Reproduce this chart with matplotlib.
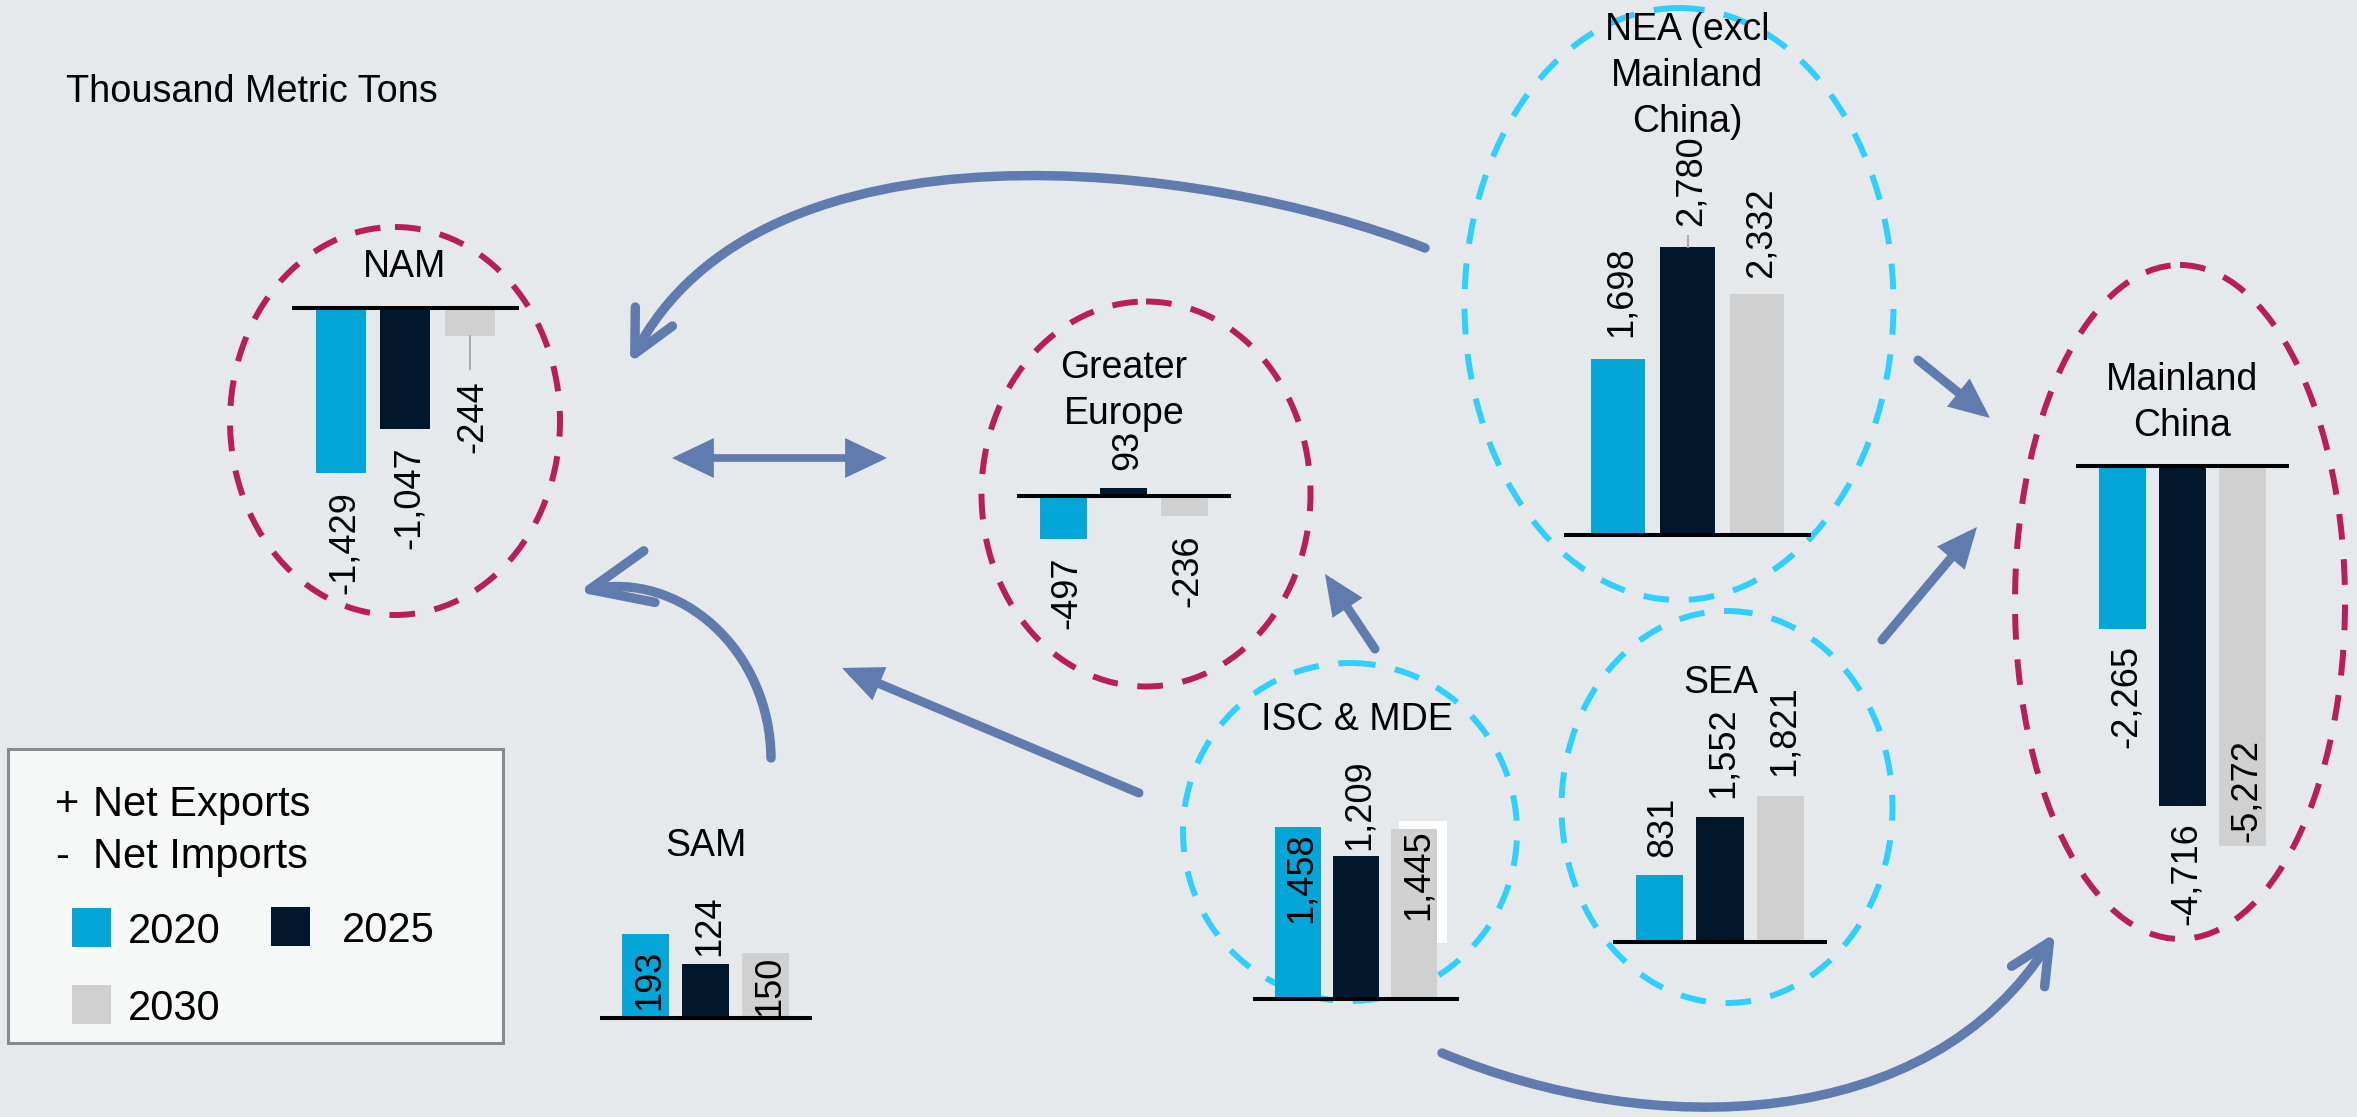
import matplotlib
matplotlib.use("Agg")
import matplotlib.pyplot as plt
from matplotlib.patches import Ellipse, Rectangle, FancyArrowPatch, ArrowStyle
from matplotlib.path import Path

plt.rcParams['font.family'] = ['Liberation Sans', 'DejaVu Sans']

W, H = 2357, 1117

# net trade by region, thousand metric tons (+ exports, - imports)
years = ["2020", "2025", "2030"]
regions = ["NAM", "Greater\nEurope", "NEA (excl\nMainland\nChina)", "Mainland\nChina",
           "SAM", "ISC & MDE", "SEA"]
net_2020 = [-1429, -497, 1698, -2265, 193, 1458, 831]
net_2025 = [-1047, 93, 2780, -4716, 124, 1209, 1552]
net_2030 = [-244, -236, 2332, -5272, 150, 1445, 1821]

bar_colors = ["#03A6D6", "#01172B", "#CFD0CF"]
bg = "#E6E9EC"
arrow_c = "#607BAD"
red_ring = "#B81E5A"
cyan_ring = "#2FD0FF"

# each mini chart: baseline left px, baseline right px, baseline y px, px per kt
layout = [
    (291.7, 519.0, 308.3, 0.115),
    (1016.7, 1230.7, 495.7, 0.088),
    (1564.0, 1811.0, 535.0, 0.1035),
    (2076.0, 2289.0, 466.0, 0.072),
    (599.5, 812.0, 1018.3, 0.435),
    (1253.0, 1459.0, 999.3, 0.1182),
    (1613.0, 1827.0, 942.3, 0.0805),
]
title_pos = [(405, 263), (1124, 387), (1687, 72), (2182, 399),
             (706, 842), (1357, 716), (1721, 679)]
# label placement: 'out' past bar end, 'in' inside bar end, 'base' from baseline; gap in px
label_modes = [
    [('out', 18), ('out', 18), ('out', 44)],
    [('out', 17), ('out', 18), ('out', 18)],
    [('out', 22), ('out', 21), ('out', 16)],
    [('out', 16), ('out', 17), ('in', 4)],
    [('base', 8), ('out', 8), ('base', 2)],
    [('in', 5), ('out', 6), ('in', 1)],
    [('out', 18), ('out', 19), ('out', 20)],
]
leaders = {(0, 2): 33, (2, 1): 12}

rings = [
    (395, 421, 330, 388, red_ring),
    (1146, 494, 329, 385, red_ring),
    (1679, 304, 429, 592, cyan_ring),
    (2180, 602, 330, 674, red_ring),
    (1350, 832, 334, 338, cyan_ring),
    (1727, 807, 331, 392, cyan_ring),
]

fig = plt.figure(figsize=(W / 100, H / 100), dpi=100, facecolor=bg)
base = fig.add_axes([0, 0, 1, 1])
base.set_xlim(0, W)
base.set_ylim(H, 0)
base.axis('off')

for cx, cy, w, h, c in rings:
    base.add_patch(Ellipse((cx, cy), w, h, fill=False, ec=c, lw=4.3,
                           linestyle=(0, (4.3, 3.3))))

# white block sitting behind the ISC 2030 bar
base.add_patch(Rectangle((1399, 821), 48, 122, fc='white', ec='none'))


def curve_arrow(pts, hl, hw):
    path = Path(pts, [Path.MOVETO, Path.CURVE4, Path.CURVE4, Path.CURVE4])
    base.add_patch(FancyArrowPatch(path=path, arrowstyle=ArrowStyle("->", head_length=hl, head_width=hw),
                                   mutation_scale=1, lw=6.8, color=arrow_c,
                                   capstyle='round', joinstyle='round'))


def straight_arrow(p0, p1, style="-|>", lw=6.5, hl=18, hw=8):
    base.add_patch(FancyArrowPatch(p0, p1, arrowstyle=ArrowStyle(style, head_length=hl, head_width=hw),
                                   mutation_scale=1, lw=lw, color=arrow_c, shrinkA=0, shrinkB=0,
                                   capstyle='round', joinstyle='miter'))


curve_arrow([(1425, 248), (1200, 160), (760, 110), (630, 363)], 30, 15)
curve_arrow([(771, 758), (770, 650), (680, 570), (578, 592)], 44, 19)
curve_arrow([(1442, 1053), (1650, 1140), (1930, 1135), (2055, 933)], 29, 14)
straight_arrow((672, 458), (887, 458), style="<|-|>", lw=5.5, hl=21, hw=10)
straight_arrow((1139, 793), (842, 668))
straight_arrow((1375, 649), (1325, 574))
straight_arrow((1918, 360), (1990, 418))
straight_arrow((1882, 640), (1977, 527))

base.text(66, 92, "Thousand Metric Tons", fontsize=27.2, ha='left', va='center')

for i, name in enumerate(regions):
    vals = [net_2020[i], net_2025[i], net_2030[i]]
    x_left, x_right, y_base, k = layout[i]
    pad = 12 / k
    lo = min(0, min(vals)) - pad
    hi = max(0, max(vals)) + pad
    top_px = y_base - hi * k
    bot_px = y_base - lo * k
    ax = fig.add_axes([x_left / W, 1 - bot_px / H, (x_right - x_left) / W, (bot_px - top_px) / H])
    ax.set_xlim(-0.77, 2.77)
    ax.set_ylim(lo, hi)
    ax.axis('off')
    ax.bar(range(3), vals, width=0.78, color=bar_colors, zorder=2)
    ax.axhline(0, color='black', lw=2.9, zorder=4)

    for j, v in enumerate(vals):
        mode, gap = label_modes[i][j]
        sign = 1 if v >= 0 else -1
        if mode == 'out':
            y0, dy, va = v, sign * gap, 'bottom' if sign > 0 else 'top'
        elif mode == 'in':
            y0, dy, va = v, -sign * gap, 'top' if sign > 0 else 'bottom'
        else:
            y0, dy, va = 0, gap, 'bottom'
        ax.annotate(f"{v:,}", (j, y0), xytext=(2.6, dy * 0.72), textcoords='offset points',
                    rotation=90, ha='center', va=va, fontsize=26, zorder=3)
        if (i, j) in leaders:
            ax.plot([j, j], [v, v + sign * leaders[(i, j)] / k], color='#A6A6A6', lw=1.3, zorder=3)

    tx, ty = title_pos[i]
    base.text(tx, ty + 3.7, name, fontsize=27, ha='center', va='center',
              linespacing=1.35, zorder=5)

# legend box
base.add_patch(Rectangle((8, 749), 495, 294, fc='#F6F8F7', ec='#8A8A8A', lw=2.2))
base.text(55, 805, "+", fontsize=30, ha='left', va='center')
base.text(93, 805, "Net Exports", fontsize=30, ha='left', va='center')
base.text(55, 857, "-", fontsize=30, ha='left', va='center')
base.text(93, 857, "Net Imports", fontsize=30, ha='left', va='center')
leg_boxes = [(72, 908), (271, 907), (72, 985)]
leg_text = [(128, 932), (342, 931), (128, 1009)]
for yr, c, (bx, by), (lx, ly) in zip(years, bar_colors, leg_boxes, leg_text):
    base.add_patch(Rectangle((bx, by), 39, 39, fc=c, ec='none'))
    base.text(lx, ly, yr, fontsize=30, ha='left', va='center')

fig.savefig("out.png", dpi=100, facecolor=bg)
